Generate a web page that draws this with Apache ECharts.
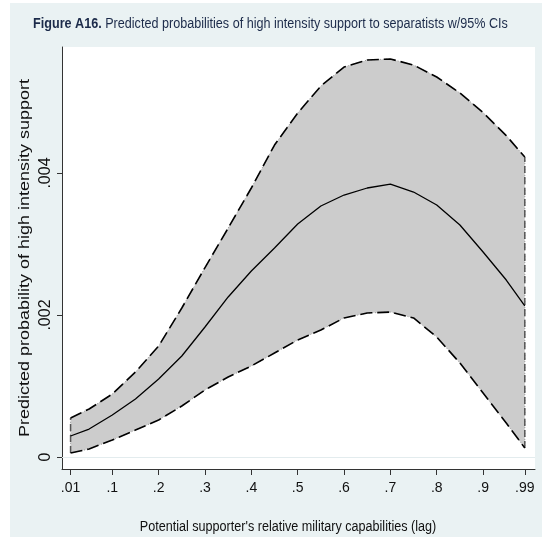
<!DOCTYPE html>
<html>
<head>
<meta charset="utf-8">
<script src="https://cdn.jsdelivr.net/npm/echarts@6/dist/echarts.min.js"></script>
<style>
html,body{margin:0;padding:0;background:#fff;}
#c{width:542px;height:537px;}
</style>
</head>
<body>
<div id="c"></div>
<script>
const xs      = [0.01, 0.05, 0.1, 0.15, 0.2, 0.25, 0.3, 0.35, 0.4, 0.45, 0.5, 0.55, 0.6, 0.65, 0.7, 0.75, 0.8, 0.85, 0.9, 0.95, 0.99];
const central = [0.000296, 0.000394, 0.000592, 0.000817, 0.001099, 0.001423, 0.001831, 0.002254, 0.00262, 0.002944, 0.003282, 0.003535, 0.00369, 0.003789, 0.003845, 0.003732, 0.003549, 0.003268, 0.002887, 0.002493, 0.002127];
const upper   = [0.000549, 0.000676, 0.000887, 0.001197, 0.001563, 0.002099, 0.002668, 0.003225, 0.003789, 0.004394, 0.004845, 0.005225, 0.005493, 0.005592, 0.005606, 0.005521, 0.005352, 0.005127, 0.004851, 0.004527, 0.004225];
const lower   = [0.000056, 0.000113, 0.000239, 0.00038, 0.000521, 0.000718, 0.000944, 0.001127, 0.001282, 0.001465, 0.001648, 0.001789, 0.001958, 0.002028, 0.002042, 0.001958, 0.00169, 0.001324, 0.000901, 0.000479, 0.000127];
const xTicks      = [0.01, 0.1, 0.2, 0.3, 0.4, 0.5, 0.6, 0.7, 0.8, 0.9, 0.99];
const xTickLabels = ['.01', '.1', '.2', '.3', '.4', '.5', '.6', '.7', '.8', '.9', '.99'];
const yTicks      = [0, 0.002, 0.004];
const yTickLabels = ['0', '.002', '.004'];
const titleBold = 'Figure A16.';
const titleRest = ' Predicted probabilities of high intensity support to separatists w/95% CIs';
const xTitle = "Potential supporter's relative military capabilities (lag)";
const yTitle = 'Predicted probability of high intensity support';

const SANS = "'Liberation Sans', Arial, Helvetica, sans-serif";

function lookup(vals, labels, v) {
  for (let i = 0; i < vals.length; i++) if (Math.abs(vals[i] - v) < 1e-9) return labels[i];
  return '';
}

const chart = echarts.init(document.getElementById('c'), null, {renderer: 'canvas'});
const pairs = (arr) => xs.map((x, i) => [x, arr[i]]);

chart.setOption({
  animation: false,
  backgroundColor: '#ffffff',
  graphic: [
    {type: 'rect', shape: {x: 10, y: 3, width: 532, height: 534}, style: {fill: '#eaf2f3'}, z: -10, silent: true},
    {type: 'text', x: 270.5, y: 24, z: 10, scaleX: 0.9,
      style: {text: '{b|' + titleBold + '}{r|' + titleRest + '}', align: 'center', verticalAlign: 'middle',
        rich: {
          b: {fontFamily: SANS, fontSize: 14, fontWeight: 'bold', fill: '#1c2b4a'},
          r: {fontFamily: SANS, fontSize: 14, fill: '#1c2b4a'}
        }}},
    {type: 'text', x: 288, y: 527, z: 10, scaleX: 0.9,
      style: {text: xTitle, align: 'center', verticalAlign: 'middle', fontFamily: SANS, fontSize: 14, fill: '#111'}},
    {type: 'text', x: 25, y: 258, rotation: Math.PI / 2, scaleX: 1.2, z: 10,
      style: {text: yTitle, align: 'center', verticalAlign: 'middle', fontFamily: SANS, fontSize: 15, fill: '#111'}}
  ],
  grid: {left: 62, top: 47, right: 7, bottom: 68, show: true, backgroundColor: '#ffffff', borderWidth: 0, containLabel: false},
  xAxis: {
    type: 'value', min: -0.0085, max: 1.012,
    axisLine: {show: true, onZero: false, lineStyle: {color: '#333', width: 1}},
    axisTick: {show: true, length: 6, customValues: xTicks, lineStyle: {color: '#333'}},
    axisLabel: {customValues: xTicks, margin: 12, fontFamily: SANS, fontSize: 14, color: '#111',
      formatter: (v) => lookup(xTicks, xTickLabels, v)},
    splitLine: {show: false}
  },
  yAxis: {
    type: 'value', min: -0.000169, max: 0.005775,
    axisLine: {show: true, onZero: false, lineStyle: {color: '#333', width: 1}},
    axisTick: {show: true, length: 5, customValues: yTicks, lineStyle: {color: '#333'}},
    axisLabel: {customValues: yTicks, rotate: 90, margin: 8, fontFamily: SANS, fontSize: 16, color: '#111',
      formatter: (v) => lookup(yTicks, yTickLabels, v)},
    splitLine: {show: false}
  },
  series: [
    {
      type: 'line', data: [], z: 1, silent: true,
      markLine: {silent: true, symbol: 'none', label: {show: false}, animation: false,
        lineStyle: {color: '#e3ecee', type: 'solid', width: 1},
        data: yTicks.map(v => ({yAxis: v}))}
    },
    {
      type: 'custom', z: 3, silent: true, data: [0],
      renderItem: function (params, api) {
        const pts = [];
        for (let i = 0; i < xs.length; i++) pts.push(api.coord([xs[i], upper[i]]));
        for (let i = xs.length - 1; i >= 0; i--) pts.push(api.coord([xs[i], lower[i]]));
        return {type: 'polygon', shape: {points: pts},
          style: {fill: '#cccccc', stroke: '#9a9a9a', lineWidth: 1, lineDash: [1, 2]}};
      }
    },
    {type: 'line', z: 4, data: [[xs[0], lower[0]], [xs[0], upper[0]]], showSymbol: false, silent: true,
      lineStyle: {color: '#555', width: 1.5, type: [7, 4]}},
    {type: 'line', z: 4, data: [[xs[xs.length - 1], lower[xs.length - 1]], [xs[xs.length - 1], upper[xs.length - 1]]], showSymbol: false, silent: true,
      lineStyle: {color: '#555', width: 1.5, type: [7, 4]}},
    {type: 'line', z: 5, data: pairs(upper), showSymbol: false, silent: true,
      lineStyle: {color: '#000', width: 1.6, type: [12, 5]}},
    {type: 'line', z: 5, data: pairs(lower), showSymbol: false, silent: true,
      lineStyle: {color: '#000', width: 1.6, type: [12, 5]}},
    {type: 'line', z: 6, data: pairs(central), showSymbol: false, silent: true,
      lineStyle: {color: '#000', width: 1.3, type: 'solid'}}
  ]
});
</script>
</body>
</html>
